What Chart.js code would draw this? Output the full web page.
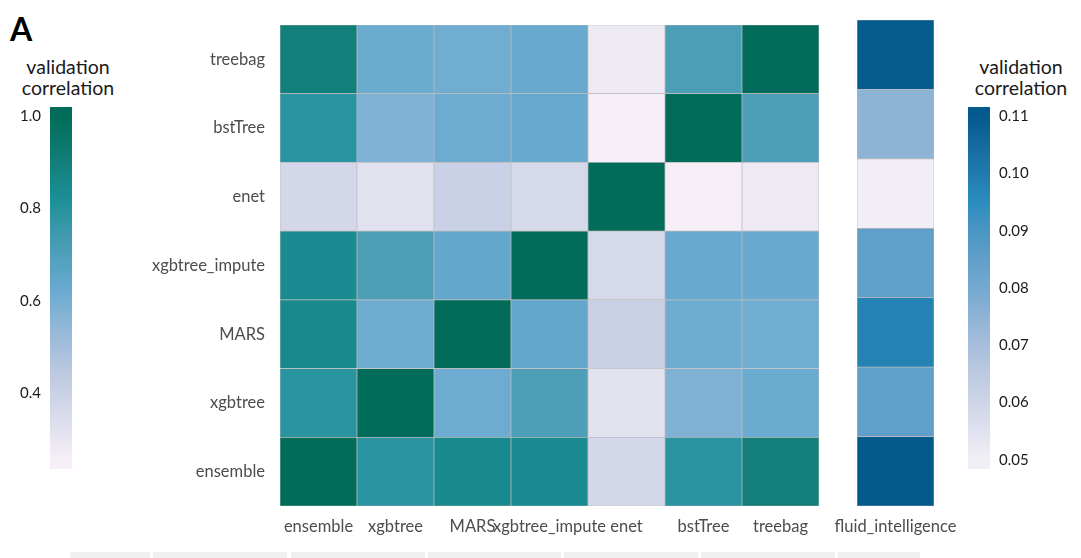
<!DOCTYPE html>
<html>
<head>
<meta charset="utf-8">
<script src="https://cdn.jsdelivr.net/npm/chart.js@4.4.1/dist/chart.umd.min.js"></script>
<style>
  body { margin: 0; background: #fff; width: 1081px; height: 558px; overflow: hidden; position: relative; font-family: Lato, sans-serif; }
  canvas { position: absolute; top: 0; }
  #heat { left: 0; }
  #fluid { left: 800px; }
  #legLeft { left: 0; }
  #legRight { left: 968px; }
  .ttl { position: absolute; width: 130px; text-align: center; font-size: 19.5px; font-weight: 400; line-height: 21px; color: #1a1a1a; top: 56px; }
  .tag { position: absolute; left: 10px; top: 9px; font-size: 32px; font-weight: bold; color: #000; }
  .strip { position: absolute; top: 552px; height: 6px; background: #f0f0f0; }
</style>
</head>
<body>
<div class="tag">A</div>
<div class="ttl" style="left:3px">validation<br>correlation</div>
<div class="ttl" style="left:956px">validation<br>correlation</div>
<canvas id="heat" width="825" height="558"></canvas>
<canvas id="fluid" width="190" height="558"></canvas>
<canvas id="legLeft" width="72" height="558"></canvas>
<canvas id="legRight" width="113" height="558"></canvas>
<div class="strip" style="left:70px;width:80px"></div>
<div class="strip" style="left:153px;width:134px"></div>
<div class="strip" style="left:291px;width:134px"></div>
<div class="strip" style="left:428px;width:133px"></div>
<div class="strip" style="left:564px;width:134px"></div>
<div class="strip" style="left:701px;width:134px"></div>
<div class="strip" style="left:838px;width:82px"></div>
<script>
// models, columns left to right and rows bottom to top
const colModels = ['ensemble', 'xgbtree', 'MARS', 'xgbtree_impute', 'enet', 'bstTree', 'treebag']
const rowModels = ['ensemble', 'xgbtree', 'MARS', 'xgbtree_impute', 'enet', 'bstTree', 'treebag']

// validation correlation between models (one row each, in colModels order)
const corEnsemble = [1.00, 0.79, 0.85, 0.835, 0.37, 0.79, 0.90]
const corXgbtree = [0.79, 1.00, 0.617, 0.706, 0.32, 0.582, 0.618]
const corMARS = [0.85, 0.617, 1.00, 0.639, 0.40, 0.617, 0.609]
const corXgbImpute = [0.835, 0.706, 0.639, 1.00, 0.364, 0.627, 0.621]
const corEnet = [0.37, 0.32, 0.40, 0.364, 1.00, 0.255, 0.28]
const corBstTree = [0.79, 0.582, 0.617, 0.627, 0.255, 1.00, 0.712]
const corTreebag = [0.90, 0.618, 0.609, 0.621, 0.28, 0.712, 1.00]

// correlation with fluid intelligence, rows bottom to top
const fluidLabel = ['fluid_intelligence']
const fluidCor = [0.110, 0.0853, 0.0978, 0.0853, 0.0500, 0.0749, 0.1095]

const leftTicks = [0.4, 0.6, 0.8, 1.0]
const rightTicks = [0.05, 0.06, 0.07, 0.08, 0.09, 0.10, 0.11]

const corRows = [corEnsemble, corXgbtree, corMARS, corXgbImpute, corEnet, corBstTree, corTreebag]

const PuBuGn = ['#F6EFF7', '#BDC9E1', '#67A9CF', '#1C9099', '#016C59']
const PuBu = ['#F1EEF6', '#BDC9E1', '#74A9CF', '#2B8CBE', '#045A8D']

const FONT = 'Lato'
const GRID = '#bdbdbd'

// colour helpers: interpolate palette in Lab space
function hexRgb(h){
    const n = parseInt(h.slice(1), 16)
    return [(n >> 16) & 255, (n >> 8) & 255, n & 255]
}
function toLin(c){ c /= 255; return c <= 0.04045 ? c / 12.92 : Math.pow((c + 0.055) / 1.055, 2.4) }
function fromLin(c){ c = c <= 0.0031308 ? 12.92 * c : 1.055 * Math.pow(c, 1 / 2.4) - 0.055; return Math.round(Math.max(0, Math.min(1, c)) * 255) }
function rgbLab(rgb){
    const [r, g, b] = rgb.map(toLin)
    const x = (0.4124 * r + 0.3576 * g + 0.1805 * b) / 0.95047
    const y = 0.2126 * r + 0.7152 * g + 0.0722 * b
    const z = (0.0193 * r + 0.1192 * g + 0.9505 * b) / 1.08883
    const f = t => t > 0.008856 ? Math.cbrt(t) : 7.787 * t + 16 / 116
    return [116 * f(y) - 16, 500 * (f(x) - f(y)), 200 * (f(y) - f(z))]
}
function labRgb([L, a, bb]){
    const fy = (L + 16) / 116, fx = fy + a / 500, fz = fy - bb / 200
    const fi = t => t > 0.206893 ? t * t * t : (t - 16 / 116) / 7.787
    const x = fi(fx) * 0.95047, y = fi(fy), z = fi(fz) * 1.08883
    const r = 3.2406 * x - 1.5372 * y - 0.4986 * z
    const g = -0.9689 * x + 1.8758 * y + 0.0415 * z
    const b = 0.0557 * x - 0.2040 * y + 1.0570 * z
    return [fromLin(r), fromLin(g), fromLin(b)]
}
function colourAt(pal, t){
    t = Math.max(0, Math.min(1, t))
    const labs = pal.map(h => rgbLab(hexRgb(h)))
    const p = t * (pal.length - 1)
    const i = Math.min(Math.floor(p), pal.length - 2)
    const f = p - i
    const c = labRgb(labs[i].map((v, k) => v + (labs[i + 1][k] - v) * f))
    return `rgb(${c[0]},${c[1]},${c[2]})`
}

const allCor = corRows.flat()
const lo1 = Math.min(...allCor), hi1 = Math.max(...allCor)
const lo2 = Math.min(...fluidCor), hi2 = Math.max(...fluidCor)

function cellSets(rows, pal, lo, hi){
    return rowModels.map((name, r) => ({
        label: name,
        data: rows[r].map(() => 1),
        backgroundColor: rows[r].map(v => colourAt(pal, (v - lo) / (hi - lo))),
        borderColor: GRID,
        borderWidth: 0.7,
        borderSkipped: false,
        barPercentage: 1,
        categoryPercentage: 1,
        stack: 'cells'
    }))
}

const baseOpts = {
    responsive: false,
    animation: false,
    plugins: { legend: { display: false }, tooltip: { enabled: false }, title: { display: false } }
}

const tickFont = { family: FONT, size: 16.5 }

// x axis for the cell charts: no side padding so the long labels do not shrink the cells
const cellX = {
    stacked: true,
    grid: { display: false, drawTicks: false },
    border: { display: false },
    ticks: { autoSkip: false, maxRotation: 0, padding: 11, color: '#4d4d4d', font: tickFont },
    afterFit: s => { s.height = 52; s.paddingLeft = 0; s.paddingRight = 0 }
}

// main heatmap
new Chart(document.querySelector('#heat'), {
    type: 'bar',
    data: { labels: colModels, datasets: cellSets(corRows, PuBuGn, lo1, hi1) },
    options: {
        ...baseOpts,
        layout: { padding: { left: 0, right: 6, top: 20, bottom: 0 } },
        scales: {
            x: cellX,
            y: {
                stacked: true,
                min: 0,
                max: rowModels.length,
                grid: { display: false, drawTicks: false },
                border: { display: false },
                afterBuildTicks: s => { s.ticks = rowModels.map((_, i) => ({ value: i + 0.5 })) },
                ticks: { padding: 15, color: '#4d4d4d', font: tickFont, callback: (v, i) => rowModels[i] },
                afterFit: s => { s.width = 280 }
            }
        }
    }
})

// fluid intelligence column
new Chart(document.querySelector('#fluid'), {
    type: 'bar',
    data: { labels: fluidLabel, datasets: cellSets(fluidCor.map(v => [v]), PuBu, lo2, hi2) },
    options: {
        ...baseOpts,
        layout: { padding: { left: 57, right: 56, top: 20, bottom: 0 } },
        scales: {
            x: cellX,
            y: { stacked: true, min: 0, max: rowModels.length, display: false }
        }
    }
})

function gradientFill(pal, lo, hi){
    return ctx => {
        const chart = ctx.chart
        if(!chart.chartArea) return pal[0]
        const y = chart.scales.y
        const g = chart.ctx.createLinearGradient(0, y.getPixelForValue(lo), 0, y.getPixelForValue(hi))
        for(let i = 0; i <= 40; i++) g.addColorStop(i / 40, colourAt(pal, i / 40))
        return g
    }
}

function legendChart(el, pal, lo, hi, ticks, digits, side){
    const pad = (hi - lo) / 38
    new Chart(el, {
        type: 'bar',
        data: {
            labels: [''],
            datasets: [{ data: [[lo - pad, hi + pad]], backgroundColor: gradientFill(pal, lo, hi), barPercentage: 1, categoryPercentage: 1 }]
        },
        options: {
            ...baseOpts,
            layout: { padding: { left: 0, right: 0, top: 107, bottom: 89 } },
            scales: {
                x: { display: false },
                y: {
                    position: side,
                    min: lo - pad,
                    max: hi + pad,
                    grid: { display: false, drawTicks: false },
                    border: { display: false },
                    afterBuildTicks: s => { s.ticks = ticks.map(v => ({ value: v })) },
                    ticks: { padding: 9, color: '#1a1a1a', font: { family: FONT, size: 15 }, callback: v => v.toFixed(digits) },
                    afterFit: s => { s.width = side === 'left' ? 50 : 91 }
                }
            }
        }
    })
}

legendChart(document.querySelector('#legLeft'), PuBuGn, lo1, hi1, leftTicks, 1, 'left')
legendChart(document.querySelector('#legRight'), PuBu, lo2, hi2, rightTicks, 2, 'right')
</script>
</body>
</html>
